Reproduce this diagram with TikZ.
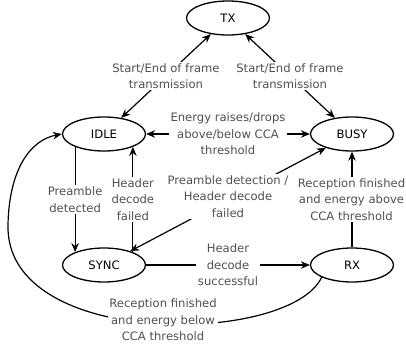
\documentclass[tikz,border=0pt]{standalone}
\usepackage{fontspec}
\setmainfont{DejaVu Sans}
\usetikzlibrary{arrows.meta,shapes.geometric}
\definecolor{lblgray}{HTML}{505050}
\begin{document}
\begin{tikzpicture}[x=1pt,y=-1pt,
  state/.style={ellipse, draw, line width=1.3pt, minimum width=83pt, minimum height=34pt,
    inner sep=0pt, font=\fontsize{11.6}{14}\selectfont},
  lbl/.style={fill=white, text=lblgray, align=center, inner sep=1.5pt,
    font=\fontsize{11.6}{16.5}\selectfont},
  trans/.style={line width=1.2pt, -{Stealth[length=9pt,width=7.5pt]}},
  both/.style={line width=1.2pt, {Stealth[length=9pt,width=7.5pt]}-{Stealth[length=9pt,width=7.5pt]}}
]
\useasboundingbox (0,0) rectangle (406,345);

% states
\node[state] (tx)   at (228,18)  {TX};
\node[state] (idle) at (104,134) {IDLE};
\node[state] (busy) at (352,134) {BUSY};
\node[state] (sync) at (104,265) {SYNC};
\node[state] (rx)   at (352,265) {RX};

% transitions
\draw[both] (idle) -- node[lbl] {Start/End of frame\\transmission} (tx);
\draw[both] (busy) -- node[lbl] {Start/End of frame\\transmission} (tx);
\draw[both] (idle) -- node[lbl] {Energy raises/drops\\above/below CCA\\threshold} (busy);
\draw[trans] (idle.204) -- node[lbl] {Preamble\\detected} (sync.156);
\draw[trans] (sync.24) -- node[lbl] {Header\\decode\\failed} (idle.336);
\draw[both] (sync) -- node[lbl, pos=0.5, yshift=3pt] {Preamble detection /\\Header decode\\failed} (busy);
\draw[trans] (rx) -- node[lbl, xshift=-0.5pt] {Reception finished\\and energy above\\CCA threshold} (busy);
\draw[trans] (sync) -- node[lbl] {Header\\decode\\successful} (rx);

% long way back from RX to IDLE
\coordinate (turn) at (8,225);
\draw[trans] (rx.202) .. controls (290,345) and (5,350) .. (turn)
  .. controls (9,170) and (30,140) .. (idle.west);
\node[lbl] (backlbl) at (163,320) {Reception finished\\and energy below\\CCA threshold};
\end{tikzpicture}
\end{document}
